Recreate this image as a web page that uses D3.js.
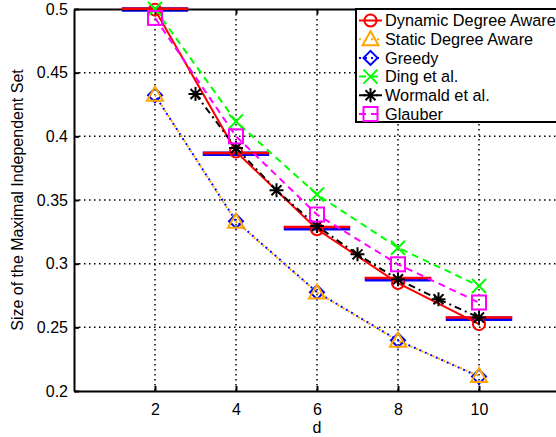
<!DOCTYPE html>
<html>
<head>
<meta charset="utf-8">
<script src="https://cdn.jsdelivr.net/npm/d3@7"></script>
<style>
    body { margin: 0; background: #fff; }
    svg { display: block; font-family: "Liberation Sans", Arial, sans-serif; }
    .axis path, .axis line { stroke: #000; stroke-width: 2; }
    .axis text { font-size: 16px; fill: #000; }
    .grid line { stroke: #000; stroke-width: 1.5; stroke-dasharray: 1.5,3.5; }
</style>
</head>
<body>
<div id="graph"></div>
<script>
/*************************************** DATA *********************************************/

var dValues = [2, 4, 6, 8, 10];
var wormaldD = [3, 4, 5, 6, 7, 8, 9, 10];

var dynamicAware = [0.4995, 0.388, 0.327, 0.2848, 0.2525];
var staticAware = [0.4326, 0.333, 0.2773, 0.2394, 0.2118];
var greedy = [0.4322, 0.3334, 0.2776, 0.2398, 0.2113];
var ding = [0.5, 0.4117, 0.3543, 0.3125, 0.2825];
var wormald = [0.4332, 0.3909, 0.3577, 0.3295, 0.3073, 0.2877, 0.2721, 0.2577];
var glauber = [0.493, 0.4, 0.3386, 0.2995, 0.2695];

// theoretical levels drawn as short horizontal bars
var barBlue = [0.5, 0.3868, 0.3283, 0.2882, 0.2572];
var barRed = [0.5, 0.3866, 0.3285, 0.2885, 0.2574];
var barHalfWidth = 0.82;

var xTicks = [2, 4, 6, 8, 10];
var yTicks = [0.2, 0.25, 0.3, 0.35, 0.4, 0.45, 0.5];

/*************************************** GRAPH *********************************************/

var margin = {
        top: 9,
        left: 74
    },
    width = 486,
    height = 382;

var x = d3.scaleLinear().domain([0, 12]).range([0, width]);
var y = d3.scaleLinear().domain([0.2, 0.5]).range([height, 0]);

var svg = d3.select("#graph").append("svg")
    .attr("width", 556)
    .attr("height", 437)
    .append("g")
    .attr("transform", "translate(" + margin.left + "," + margin.top + ")");

// grid
svg.append("g")
    .attr("class", "grid")
    .selectAll("line.v")
    .data(xTicks)
    .enter().append("line")
    .attr("x1", function(d) { return x(d); })
    .attr("x2", function(d) { return x(d); })
    .attr("y1", 0)
    .attr("y2", height);

svg.append("g")
    .attr("class", "grid")
    .selectAll("line.h")
    .data(yTicks.slice(1, -1))
    .enter().append("line")
    .attr("x1", 0)
    .attr("x2", width)
    .attr("y1", function(d) { return y(d); })
    .attr("y2", function(d) { return y(d); });

// blue bars go under the axes so the top one hides behind the border
var barLayer = svg.append("g");

// axes (ticks inward)
svg.append("g")
    .attr("class", "x axis")
    .attr("transform", "translate(0," + height + ")")
    .call(d3.axisBottom(x).tickValues(xTicks).tickSize(-5).tickSizeOuter(0).tickPadding(13))
    .selectAll("text").attr("dy", "0.71em");

svg.append("g")
    .attr("class", "x axis")
    .call(d3.axisTop(x).tickValues(xTicks).tickSize(-5).tickSizeOuter(0).tickFormat(""));

svg.append("g")
    .attr("class", "y axis")
    .call(d3.axisLeft(y).tickValues(yTicks).tickSize(-5).tickSizeOuter(0).tickPadding(6)
        .tickFormat(function(d) { return d3.format("")(+d.toFixed(2)); }));

svg.append("text")
    .attr("transform", "rotate(-90)")
    .attr("x", -height / 2)
    .attr("y", -51)
    .style("text-anchor", "middle")
    .style("font-size", "16px")
    .text("Size of the Maximal Independent Set");

svg.append("text")
    .attr("x", x(6))
    .attr("y", height + 42)
    .style("text-anchor", "middle")
    .style("font-size", "16px")
    .text("d");

// horizontal bars
function drawBars(layer, values, color, w, offset) {
    layer.append("g").selectAll("line")
        .data(values)
        .enter().append("line")
        .attr("x1", function(d, i) { return x(dValues[i] - barHalfWidth); })
        .attr("x2", function(d, i) { return x(dValues[i] + barHalfWidth); })
        .attr("y1", function(d) { return y(d) + offset; })
        .attr("y2", function(d) { return y(d) + offset; })
        .attr("stroke", color)
        .attr("stroke-width", w);
}

drawBars(barLayer, barBlue, "#0000ff", 4.5, 0.5);
drawBars(svg, barRed, "#ff0000", 2.5, -0.3);

// series
var series = [
    { name: "Dynamic Degree Aware", xs: dValues, ys: dynamicAware, color: "#ff0000", dash: null, marker: "circle" },
    { name: "Static Degree Aware", xs: dValues, ys: staticAware, color: "#ffa500", dash: "2,4", marker: "triangle" },
    { name: "Greedy", xs: dValues, ys: greedy, color: "#0000ff", dash: "2,4", offset: 3, marker: "diamond" },
    { name: "Ding et al.", xs: dValues, ys: ding, color: "#00ff00", dash: "7,5", marker: "x" },
    { name: "Wormald et al.", xs: wormaldD, ys: wormald, color: "#000000", dash: "7,4,2,4", marker: "asterisk" },
    { name: "Glauber", xs: dValues, ys: glauber, color: "#ff00ff", dash: "7,5", marker: "square" }
];

var line = d3.line()
    .x(function(d) { return x(d[0]); })
    .y(function(d) { return y(d[1]); });

function drawMarker(g, type, color) {
    if (type == "circle") {
        g.append("circle").attr("r", 6);
    } else if (type == "triangle") {
        g.append("path").attr("d", "M0,-8L8,6L-8,6Z");
    } else if (type == "diamond") {
        g.append("path").attr("d", "M0,-7L7,0L0,7L-7,0Z");
    } else if (type == "x") {
        g.append("path").attr("d", "M-7,-7L7,7M-7,7L7,-7");
    } else if (type == "asterisk") {
        g.append("path").attr("d", "M-7,0L7,0M0,-7L0,7M-5,-5L5,5M-5,5L5,-5");
    } else if (type == "square") {
        g.append("rect").attr("x", -7).attr("y", -7).attr("width", 14).attr("height", 14);
    }
    g.selectAll("*")
        .attr("fill", "none")
        .attr("stroke", color)
        .attr("stroke-width", 2);
}

// draw greedy below static so the orange triangles sit on top
var drawOrder = [2, 1, 0, 3, 4, 5];

drawOrder.forEach(function(k) {
    var s = series[k];
    var pts = s.xs.map(function(d, i) { return [d, s.ys[i]]; });
    svg.append("path")
        .datum(pts)
        .attr("d", line)
        .attr("fill", "none")
        .attr("stroke", s.color)
        .attr("stroke-width", 2)
        .attr("stroke-dasharray", s.dash)
        .attr("stroke-dashoffset", s.offset || 0);
});

drawOrder.forEach(function(k) {
    var s = series[k];
    s.xs.forEach(function(d, i) {
        var g = svg.append("g")
            .attr("transform", "translate(" + x(d) + "," + y(s.ys[i]) + ")");
        drawMarker(g, s.marker, s.color);
    });
});

/*************************************** LEGEND *********************************************/

var legend = d3.select("svg").append("g")
    .attr("transform", "translate(356,9)");

legend.append("rect")
    .attr("width", 230)
    .attr("height", 113)
    .attr("fill", "#fff")
    .attr("stroke", "#000")
    .attr("stroke-width", 2);

series.forEach(function(s, i) {
    var row = legend.append("g")
        .attr("transform", "translate(0," + (11.5 + i * 18.7) + ")");
    row.append("line")
        .attr("x1", 3)
        .attr("x2", 26)
        .attr("stroke", s.color)
        .attr("stroke-width", 2)
        .attr("stroke-dasharray", s.dash);
    var m = row.append("g").attr("transform", "translate(14.5,0)");
    drawMarker(m, s.marker, s.color);
    row.append("text")
        .attr("x", 29)
        .attr("dy", "0.36em")
        .style("font-size", "16.3px")
        .text(s.name);
});
</script>
</body>
</html>
